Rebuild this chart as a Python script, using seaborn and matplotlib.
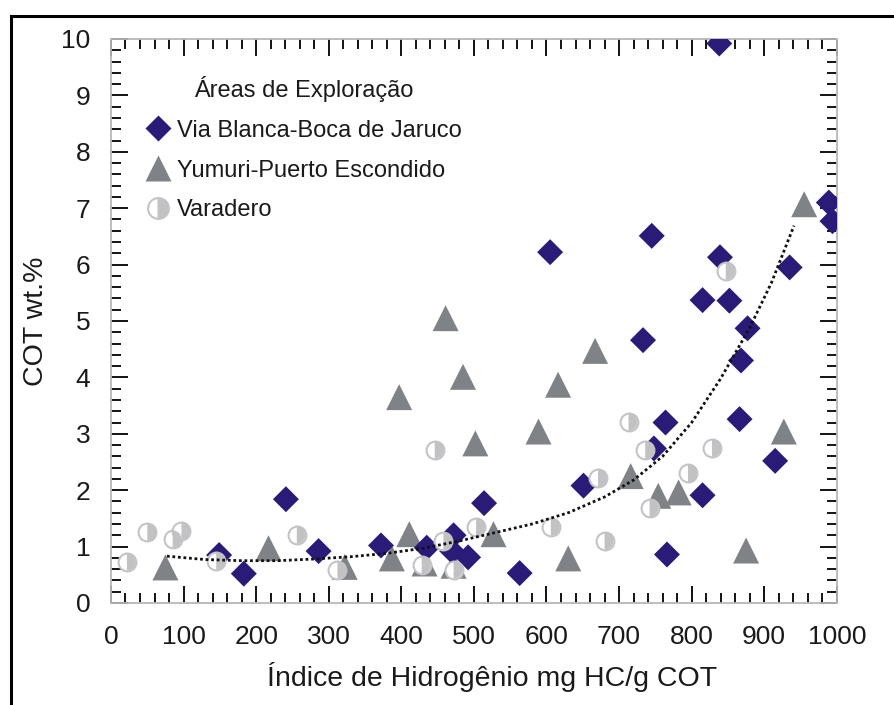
import numpy as np
import pandas as pd
import seaborn as sns
import matplotlib
matplotlib.use("Agg")
import matplotlib.pyplot as plt
from matplotlib.lines import Line2D
from matplotlib.markers import MarkerStyle
from matplotlib.ticker import MultipleLocator

# Índice de Hidrogênio (mg HC/g COT) and COT (wt.%) for each exploration area
vb_hi = [149, 183, 241, 286, 372, 435, 470, 472, 492, 514, 563, 605, 651, 733, 745,
         748, 764, 766, 815, 815, 838, 839, 852, 866, 868, 877, 915, 935, 989, 994]
vb_cot = [0.85, 0.52, 1.84, 0.92, 1.02, 0.98, 0.92, 1.20, 0.81, 1.77, 0.53, 6.22, 2.08, 4.66, 6.51,
          2.74, 3.20, 0.86, 1.91, 5.37, 9.92, 6.13, 5.36, 3.26, 4.30, 4.87, 2.52, 5.95, 7.10, 6.77]

yp_hi = [75, 217, 322, 387, 397, 411, 432, 461, 472, 485, 502, 527, 589, 616, 630,
         667, 716, 754, 782, 875, 927, 955]
yp_cot = [0.63, 0.97, 0.64, 0.79, 3.65, 1.22, 0.70, 5.05, 0.66, 4.01, 2.83, 1.22, 3.04, 3.87, 0.79,
          4.47, 2.25, 1.90, 1.96, 0.93, 3.04, 7.07]

va_hi = [22, 50, 85, 97, 145, 256, 312, 428, 446, 458, 472, 503, 606, 671, 680,
         713, 736, 742, 795, 828, 847]
va_cot = [0.73, 1.25, 1.13, 1.28, 0.75, 1.21, 0.59, 0.67, 2.71, 1.10, 0.59, 1.35, 1.35, 2.21, 1.10,
          3.21, 2.71, 1.68, 2.30, 2.75, 5.89]

# Trend curve through the cloud
trend_hi = [77, 130, 180, 230, 280, 330, 380, 430, 480, 530, 580, 630, 680, 720, 760,
            800, 840, 880, 910, 941]
trend_cot = [0.83, 0.77, 0.75, 0.75, 0.78, 0.82, 0.88, 0.97, 1.10, 1.25, 1.40, 1.60, 1.88, 2.18, 2.60,
             3.20, 3.98, 4.88, 5.68, 6.69]

area_names = ["Via Blanca-Boca de Jaruco", "Yumuri-Puerto Escondido", "Varadero"]
legend_title = "Áreas de Exploração"
x_label = "Índice de Hidrogênio mg HC/g COT"
y_label = "COT wt.%"

C_VB = "#2b1b78"
C_YP = "#7f8387"
C_VA_EDGE = "#c4c4c6"
C_VA_FILL = "#c2c2c4"

sns.set_style("white")
plt.rcParams["font.family"] = ["Liberation Sans", "DejaVu Sans"]

fig = plt.figure(figsize=(8.95, 7.05), dpi=100)
ax = fig.add_axes([0.124, 0.1447, 0.811, 0.800])

# Outer frame
fig.add_artist(Line2D([11 / 895, 11 / 895], [0, 1 - 16 / 705], transform=fig.transFigure,
                      color="black", lw=2.2, solid_capstyle="projecting"))
fig.add_artist(Line2D([11 / 895, 1], [1 - 16 / 705, 1 - 16 / 705], transform=fig.transFigure,
                      color="black", lw=2.2, solid_capstyle="projecting"))

sns.scatterplot(x=yp_hi, y=yp_cot, ax=ax, marker="^", s=350, color=C_YP,
                edgecolor="none", linewidth=0, zorder=2, legend=False)
sns.scatterplot(x=vb_hi, y=vb_cot, ax=ax, marker="D", s=175, color=C_VB,
                edgecolor="none", linewidth=0, zorder=3, legend=False)
sns.scatterplot(x=va_hi, y=va_cot, ax=ax, marker="o", s=165, color="white",
                edgecolor=C_VA_EDGE, linewidth=1.5, zorder=4, legend=False)
sns.scatterplot(x=va_hi, y=va_cot, ax=ax, marker=MarkerStyle("o", fillstyle="right"), s=165,
                color=C_VA_FILL, edgecolor="none", linewidth=0, zorder=4.1, legend=False)
sns.lineplot(x=trend_hi, y=trend_cot, ax=ax, sort=False, estimator=None,
             color="#111111", linewidth=2.0, linestyle=(0, (1, 1)), zorder=5)

ax.set_xlim(0, 1000)
ax.set_ylim(0, 10)
ax.xaxis.set_major_locator(MultipleLocator(100))
ax.xaxis.set_minor_locator(MultipleLocator(20))
ax.yaxis.set_major_locator(MultipleLocator(1))
ax.yaxis.set_minor_locator(MultipleLocator(0.2))
ax.tick_params(which="both", direction="in", bottom=True, left=True, top=True, right=True,
               color="black", labelsize=19, labelcolor="#1a1a1a")
ax.tick_params(which="major", length=12.5, width=1.3)
ax.tick_params(which="minor", length=7, width=1.3)
ax.tick_params(axis="x", pad=16)
ax.tick_params(axis="y", pad=15)
for sp in ax.spines.values():
    sp.set_color("#b8b8b8")
    sp.set_linewidth(1.3)

ax.set_xlabel(x_label, fontsize=20.5, color="#1a1a1a")
ax.set_ylabel(y_label, fontsize=20.5, color="#1a1a1a")
ax.xaxis.set_label_coords(0.525, -0.105)
ax.yaxis.set_label_coords(-0.085, 0.5)

handles = [
    Line2D([], [], ls="", marker="D", ms=13.2, mfc=C_VB, mec="none"),
    Line2D([], [], ls="", marker="^", ms=18.7, mfc=C_YP, mec="none"),
    Line2D([], [], ls="", marker="o", ms=15, fillstyle="right", mfc=C_VA_FILL,
           mfcalt="white", mec=C_VA_EDGE, mew=1.5),
]
leg = ax.legend(handles, area_names, title=legend_title, loc="upper left",
                bbox_to_anchor=(0.048, 0.935), borderaxespad=0, borderpad=0,
                frameon=False, fontsize=17, title_fontsize=17, handlelength=1.0,
                handletextpad=0.3, labelspacing=0.76)
for t in leg.get_texts():
    t.set_color("#1a1a1a")
leg.get_title().set_color("#1a1a1a")

fig.savefig("out.png", dpi=100)
